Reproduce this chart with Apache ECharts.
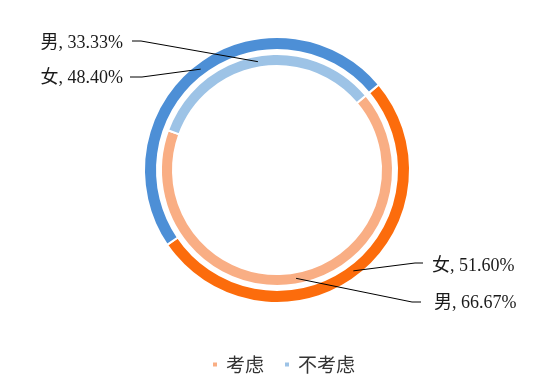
<!DOCTYPE html>
<html><head><meta charset="utf-8">
<script src="https://cdn.jsdelivr.net/npm/echarts@6/dist/echarts.min.js"></script>
<style>html,body{margin:0;padding:0;background:#fff}#c{width:540px;height:387px}</style>
</head><body><div id="c"></div>
<script>
const categories = ['考虑', '不考虑'];
const ringNames = ['男', '女'];
const maleValues = [66.67, 33.33];
const femaleValues = [51.60, 48.40];

const CX = 277, CY = 170, START = 40;
const innerR = [104, 116], outerR = [120, 133];
const ringColors = {
  '男': ['#F9AE84', '#9DC3E6'],
  '女': ['#FC6C0C', '#4D8FD6']
};
// label placement: [textX, textY, align, elbowX, elbowY, endX]
const labelPlace = {
  '男': [[434, 303, 'left', 412, 302, 421], [123, 43, 'right', 141, 41, 132]],
  '女': [[432, 266, 'left', 415, 263, 423], [123, 78, 'right', 142, 77, 130]]
};

function anchor(values, idx, radii) {
  const total = values.reduce((a, b) => a + b, 0);
  let acc = 0;
  for (let i = 0; i < idx; i++) acc += values[i];
  const midFrac = (acc + values[idx] / 2) / total;
  const ang = (START - midFrac * 360) * Math.PI / 180;
  const r = (radii[0] + radii[1]) / 2;
  return [CX + r * Math.cos(ang), CY - r * Math.sin(ang)];
}

function ringSeries(name, values, radii) {
  return {
    type: 'pie', name: name, center: [CX, CY], radius: radii, z: 2,
    startAngle: START, clockwise: true, silent: true,
    data: categories.map((c, i) => ({ name: c, value: values[i], itemStyle: { color: ringColors[name][i] } })),
    itemStyle: { borderColor: '#fff', borderWidth: 2 },
    label: { show: false }, labelLine: { show: false }
  };
}

function labelSeries(name, values, radii) {
  return {
    type: 'pie', name: name + '标签', center: [CX, CY], radius: radii, z: 6,
    startAngle: START, clockwise: true, silent: true, avoidLabelOverlap: false,
    data: categories.map((c, i) => ({ name: c, value: values[i] })),
    itemStyle: { color: 'rgba(0,0,0,0)', borderWidth: 0 },
    label: {
      show: true, formatter: p => name + ', ' + p.value.toFixed(2) + '%',
      fontFamily: 'Liberation Serif, Noto Sans CJK SC, serif', fontSize: 18, color: '#1a1a1a'
    },
    labelLine: { show: true, lineStyle: { color: '#000', width: 1 } },
    labelLayout: function (params) {
      const pl = labelPlace[name][params.dataIndex];
      const a = anchor(values, params.dataIndex, radii);
      return {
        x: pl[0], y: pl[1], align: pl[2], verticalAlign: 'middle',
        labelLinePoints: [a, [pl[3], pl[4]], [pl[5], pl[4]]]
      };
    }
  };
}

const chart = echarts.init(document.getElementById('c'), null, { renderer: 'canvas' });
chart.setOption({
  animation: false,
  backgroundColor: '#fff',
  legend: {
    bottom: 8, left: 206, icon: 'rect', itemWidth: 6, itemHeight: 6, itemGap: 19,
    textStyle: { fontSize: 19, color: '#333', fontFamily: 'Noto Sans CJK SC', padding: [0, 0, 0, 3] },
    data: categories.map((c, i) => ({ name: c, itemStyle: { color: ringColors['男'][i] } }))
  },
  series: [
    ringSeries('男', maleValues, innerR),
    ringSeries('女', femaleValues, outerR),
    labelSeries('男', maleValues, innerR),
    labelSeries('女', femaleValues, outerR)
  ]
});
</script>
</body></html>
